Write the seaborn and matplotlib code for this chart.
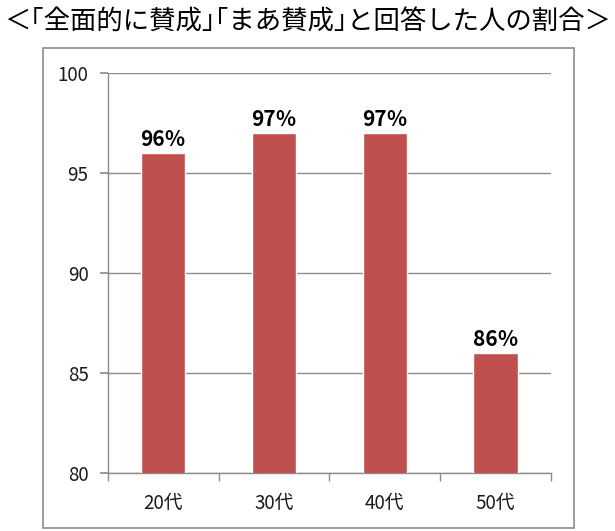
import matplotlib
matplotlib.use("Agg")
from matplotlib import pyplot as plt
from matplotlib.patches import Rectangle
import seaborn as sns
import pandas as pd

ages = ["20代", "30代", "40代", "50代"]
shares = [96, 97, 97, 86]
bar_labels = ["96％", "97％", "97％", "86％"]
title = "＜｢全面的に賛成｣｢まあ賛成｣と回答した人の割合＞"

sns.set_theme(style="white")
plt.rcParams["font.family"] = ["Noto Sans CJK JP", "DejaVu Sans"]

df = pd.DataFrame({"age": ages, "share": shares})

fig = plt.figure(figsize=(6.15, 5.31), dpi=100)
ax = fig.add_axes([0.1756, 0.109, 0.720, 0.7535])

grid_col = "#8c8c8c"
sns.barplot(data=df, x="age", y="share", color="#C0504D", saturation=1,
            width=0.4, ax=ax, zorder=3)

ax.set_ylim(80, 100)
ax.set_yticks([80, 85, 90, 95, 100])
ax.set_xlim(-0.5, 3.5)
ax.set_xlabel("")
ax.set_ylabel("")
ax.yaxis.grid(True, color=grid_col, linewidth=1, zorder=0)
ax.set_axisbelow(True)

for s in ["top", "right"]:
    ax.spines[s].set_visible(False)
for s in ["left", "bottom"]:
    ax.spines[s].set_color(grid_col)
    ax.spines[s].set_linewidth(1)

ax.tick_params(axis="y", which="major", left=True, length=6, color=grid_col,
               labelsize=13.5, labelcolor="#1a1a1a", pad=8)
ax.tick_params(axis="x", which="major", bottom=False, labelsize=13.5,
               labelcolor="#1a1a1a", pad=8)
ax.set_xticks([-0.5, 0.5, 1.5, 2.5, 3.5], minor=True)
ax.tick_params(axis="x", which="minor", bottom=True, length=6, color=grid_col)

for i, (v, lab) in enumerate(zip(shares, bar_labels)):
    ax.text(i, v + 0.15, lab, ha="center", va="bottom", fontsize=15,
            fontweight="bold", color="black")

# outer chart border
fig.patches.append(Rectangle((0.0699, 0.0057), 0.8634, 0.904,
                             transform=fig.transFigure, fill=False,
                             edgecolor=grid_col, linewidth=1.2))

fig.text(0.5, 0.958, title, ha="center", va="center", fontsize=19,
         color="black")

fig.savefig("out.png", dpi=100)
